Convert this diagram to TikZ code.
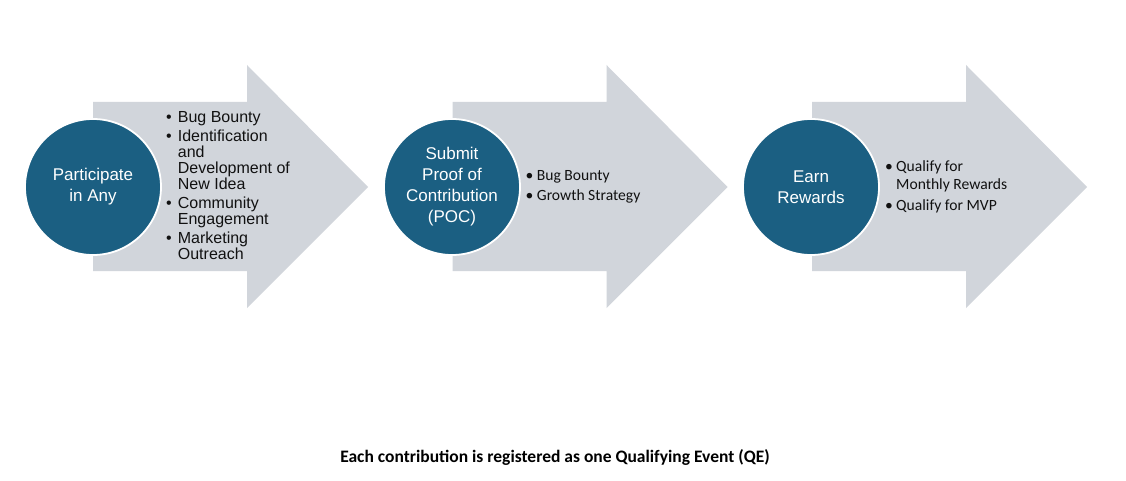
\documentclass[tikz,border=0pt]{standalone}
\usepackage{fontspec}
\setmainfont{Liberation Sans}
\newfontfamily\aptos{Carlito}
\definecolor{circfill}{HTML}{1B5F82}
\definecolor{arrfill}{HTML}{D1D5DB}
\definecolor{txt}{HTML}{111111}
\begin{document}
\begin{tikzpicture}[x=1pt,y=-1pt,
  bigarrow/.style={fill=arrfill,draw=none},
  stepcircle/.style={circle,fill=circfill,draw=white,line width=1.8pt,minimum size=136pt,inner sep=0pt,
     text=white,align=center,font=\fontsize{17}{21}\selectfont},
  ltext/.style={anchor=base west,inner sep=0pt,text=txt,font=\fontsize{16}{16}\selectfont},
  atext/.style={anchor=base west,inner sep=0pt,text=txt,font=\aptos\fontsize{15.6}{15}\selectfont},
  note/.style={inner sep=0pt,text=black,font=\aptos\bfseries\fontsize{17.5}{17.5}\selectfont}
]
\useasboundingbox[fill=white] (0,0) rectangle (1126,481);
% arrows
\foreach \dx in {0,359.5,719}{
  \fill[bigarrow] (93+\dx,102) -- (247+\dx,102) -- (247+\dx,65) -- (368+\dx,187)
     -- (247+\dx,308) -- (247+\dx,271) -- (93+\dx,271) -- cycle;
}
% circles
\node[stepcircle] (c1) at (93,187) {Participate\\in Any};
\node[stepcircle] (c2) at (452,187) {Submit\\Proof of\\Contribution\\(POC)};
\node[stepcircle] (c3) at (811,187) {Earn\\Rewards};
% list 1
\node[ltext] (b1a) at (166,122.7) {•};
\node[ltext] (t1a) at (177.7,122.7) {Bug Bounty};
\node[ltext] (b1b) at (166,141.7) {•};
\node[ltext] (t1b) at (177.7,141.7) {Identification};
\node[ltext] (t1c) at (177.7,157.7) {and};
\node[ltext] (t1d) at (177.7,173.5) {Development of};
\node[ltext] (t1e) at (177.7,189.3) {New Idea};
\node[ltext] (b1f) at (166,208.3) {•};
\node[ltext] (t1f) at (177.7,208.3) {Community};
\node[ltext] (t1g) at (177.7,224.3) {Engagement};
\node[ltext] (b1h) at (166,243.5) {•};
\node[ltext] (t1h) at (177.7,243.5) {Marketing};
\node[ltext] (t1i) at (177.7,259.5) {Outreach};
% list 2
\node[atext] (b2a) at (525.5,180) {•};
\node[atext] (t2a) at (536.7,180) {Bug Bounty};
\node[atext] (b2b) at (525.5,200.5) {•};
\node[atext] (t2b) at (536.7,200.5) {Growth Strategy};
% list 3
\node[atext] (b3a) at (885,171.7) {•};
\node[atext] (t3a) at (896,171.7) {Qualify for};
\node[atext] (t3b) at (896,189.5) {Monthly Rewards};
\node[atext] (b3c) at (885,210) {•};
\node[atext] (t3c) at (896,210) {Qualify for MVP};
% note
\node[note] (qe) at (555,457) {Each contribution is registered as one Qualifying Event (QE)};
\end{tikzpicture}
\end{document}
